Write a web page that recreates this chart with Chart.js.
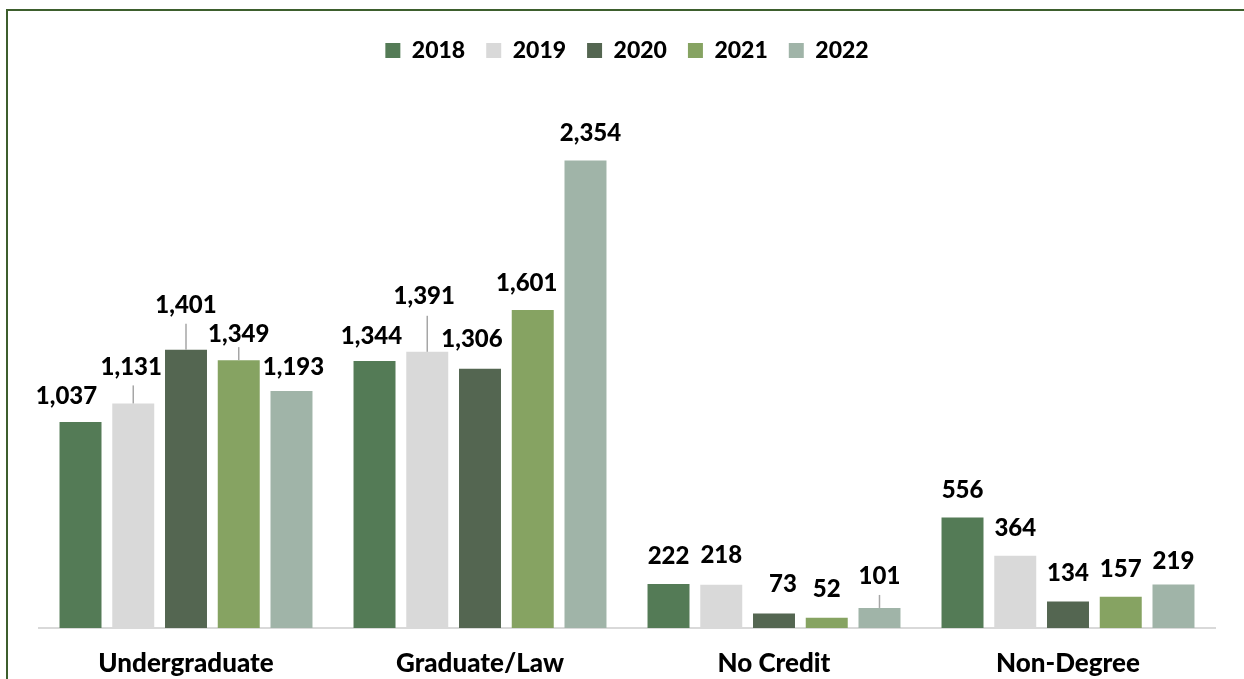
<!DOCTYPE html>
<html>
<head>
<meta charset="utf-8">
<script src="https://cdn.jsdelivr.net/npm/chart.js@4.4.1/dist/chart.umd.min.js"></script>
<style>
  html, body { margin: 0; padding: 0; background: #fff; overflow: hidden; }
  #wrap { position: relative; width: 1244px; height: 679px; overflow: hidden; }
  #frame { position: absolute; left: 6px; top: 9px; width: 1300px; height: 700px;
           border-top: 2px solid #3d5e2d; border-left: 2px solid #3d5e2d; box-sizing: border-box; }
  canvas { position: absolute; left: 0; top: 0; }
</style>
</head>
<body>
<div id="wrap">
  <div id="frame"></div>
  <canvas id="chart" width="1244" height="679"></canvas>
</div>
<script>
const categories = ['Undergraduate', 'Graduate/Law', 'No Credit', 'Non-Degree']
const years = ['2018', '2019', '2020', '2021', '2022']
const values2018 = [1037, 1344, 222, 556]
const values2019 = [1131, 1391, 218, 364]
const values2020 = [1401, 1306, 73, 134]
const values2021 = [1349, 1601, 52, 157]
const values2022 = [1193, 2354, 101, 219]

const colors = ['#547b56', '#d9d9d9', '#546651', '#86a362', '#a0b4a8']
const FONT = 'Lato, "Open Sans", sans-serif'

// label nudges, like excel moved them: key = dataset,index
const labelNudge = {
    '0,0': {dx: -14, dy: 26},
    '1,0': {dx: -2, dy: 36, leader: 18},
    '2,0': {dy: 45, leader: 26},
    '3,0': {dy: 26, leader: 13},
    '4,0': {dx: 2, dy: 24},
    '0,1': {dx: -3, dy: 25},
    '1,1': {dx: -3, dy: 56, leader: 36},
    '2,1': {dx: -8, dy: 29},
    '3,1': {dx: -6},
    '4,1': {dx: 5},
    '0,2': {dy: 28},
    '1,2': {dy: 29},
    '2,2': {dx: 9, dy: 29},
    '3,2': {dy: 28},
    '4,2': {dy: 32, leader: 13},
    '2,3': {dy: 28},
    '3,3': {dy: 28},
    '4,3': {dy: 23}
}

const barLabels = {
    id: 'barLabels',
    afterDatasetsDraw(chart) {
        const ctx = chart.ctx
        ctx.save()
        ctx.font = '900 24px ' + FONT
        ctx.textAlign = 'center'
        ctx.textBaseline = 'middle'
        chart.data.datasets.forEach((ds, i) => {
            chart.getDatasetMeta(i).data.forEach((bar, j) => {
                const n = labelNudge[i + ',' + j] || {}
                const dx = n.dx || 0
                const dy = n.dy || 27
                if (n.leader) {
                    ctx.strokeStyle = '#a6a6a6'
                    ctx.lineWidth = 1.5
                    ctx.beginPath()
                    ctx.moveTo(bar.x, bar.y)
                    ctx.lineTo(bar.x, bar.y - n.leader)
                    ctx.stroke()
                }
                ctx.fillStyle = '#000'
                ctx.fillText(ds.data[j].toLocaleString('en-US'), bar.x + dx, bar.y - dy)
            })
        })
        ctx.restore()
    }
}

const allValues = [values2018, values2019, values2020, values2021, values2022]

const chart = new Chart(document.querySelector('#chart'), {
    type: 'bar',
    data: {
        labels: categories,
        datasets: years.map((y, i) => ({
            label: y,
            data: allValues[i],
            backgroundColor: colors[i],
            barPercentage: 0.796,
            categoryPercentage: 0.897
        }))
    },
    options: {
        responsive: false,
        animation: false,
        layout: { padding: { left: 39, right: 29, top: 18, bottom: 0 } },
        plugins: {
            legend: {
                position: 'top',
                labels: {
                    boxWidth: 15,
                    boxHeight: 15,
                    padding: 21,
                    color: '#000',
                    font: { family: FONT, size: 23, weight: '900' }
                }
            },
            tooltip: { enabled: false }
        },
        scales: {
            x: {
                grid: { display: false, drawTicks: false },
                border: { display: true, color: '#d9d9d9', width: 2 },
                ticks: {
                    color: '#000',
                    padding: 20,
                    font: { family: FONT, size: 26, weight: '900' }
                },
                afterFit(scale) { scale.height = 51 }
            },
            y: {
                display: false,
                min: 0,
                max: 2800
            }
        }
    },
    plugins: [barLabels]
})
</script>
</body>
</html>
